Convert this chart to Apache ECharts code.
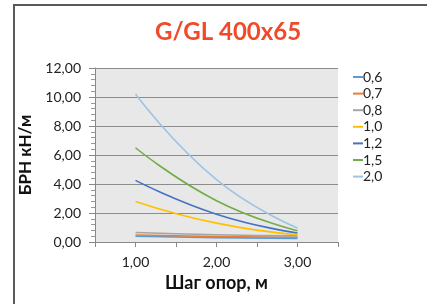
<!DOCTYPE html>
<html>
<head>
<meta charset="utf-8">
<script src="https://cdn.jsdelivr.net/npm/echarts@6/dist/echarts.min.js"></script>
<style>html,body{margin:0;padding:0;background:#fff;}#c{width:427px;height:304px;}</style>
</head>
<body>
<div id="c"></div>
<script>
var xValues = [1, 2, 3];
var seriesNames = ['0,6', '0,7', '0,8', '1,0', '1,2', '1,5', '2,0'];
var s06 = [0.40, 0.30, 0.25];
var s07 = [0.48, 0.38, 0.33];
var s08 = [0.66, 0.50, 0.42];
var s10 = [2.80, 1.30, 0.50];
var s12 = [4.25, 1.92, 0.62];
var s15 = [6.50, 2.85, 0.78];
var s20 = [10.20, 4.30, 0.97];
var seriesValues = [s06, s07, s08, s10, s12, s15, s20];
var colors = ['#5B9BD5', '#ED7D31', '#A5A5A5', '#FFC000', '#4472C4', '#70AD47', '#9DC3E6'];

var FONT = "Lato, 'Open Sans', sans-serif";
var chart = echarts.init(document.getElementById('c'), null, {renderer: 'canvas'});

function fmt(v) { return v.toFixed(2).replace('.', ','); }

var series = seriesNames.map(function (n, i) {
  return {
    name: n,
    type: 'line',
    smooth: 0.5,
    symbol: 'none',
    lineStyle: {width: 1.6, color: colors[i]},
    itemStyle: {color: colors[i]},
    data: xValues.map(function (x, j) { return [x, seriesValues[i][j]]; })
  };
});

chart.setOption({
  animation: false,
  textStyle: {fontFamily: FONT},
  title: {
    text: 'G/GL 400x65',
    left: 150,
    top: 15,
    textStyle: {color: '#EF4A2A', fontSize: 24, fontWeight: 'bold', fontFamily: FONT}
  },
  graphic: [{
    type: 'polyline',
    shape: {points: [[14, 304], [14, 5], [427, 5]]},
    style: {stroke: '#595959', lineWidth: 2, fill: null}
  }],
  legend: {
    orient: 'vertical',
    left: 348,
    top: 65,
    itemWidth: 10,
    itemHeight: 2,
    itemGap: 2.6,
    icon: 'rect',
    data: seriesNames,
    textStyle: {fontSize: 14, color: '#222', fontFamily: FONT, padding: [0, 0, 0, -5], height: 14, lineHeight: 14}
  },
  grid: {left: 95, right: 89, top: 68, bottom: 62, show: true, backgroundColor: '#E8E8E8', borderWidth: 0},
  xAxis: {
    type: 'value',
    min: 0.5, max: 3.5, interval: 0.5,
    name: 'Шаг опор, м',
    nameLocation: 'middle',
    nameGap: 31,
    nameTextStyle: {fontSize: 18, fontWeight: 'bold', color: '#111', fontFamily: FONT},
    axisLine: {show: true, lineStyle: {color: '#888', width: 1}},
    axisTick: {show: true, length: 5, lineStyle: {color: '#888'}},
    axisLabel: {
      margin: 13, fontSize: 14, color: '#222', fontFamily: FONT,
      formatter: function (v) { return Math.abs(v - Math.round(v)) < 1e-9 ? fmt(v) : ''; }
    },
    splitLine: {show: false}
  },
  yAxis: {
    type: 'value',
    min: 0, max: 12, interval: 2,
    name: 'БРН кН/м',
    nameLocation: 'middle',
    nameGap: 53,
    nameTextStyle: {fontSize: 17, fontWeight: 'bold', color: '#111', fontFamily: FONT},
    axisLine: {show: true, lineStyle: {color: '#888', width: 1}},
    axisTick: {show: true, length: 6, lineStyle: {color: '#888'}},
    minorTick: {show: true, splitNumber: 5, length: 4, lineStyle: {color: '#999'}},
    axisLabel: {margin: 14, fontSize: 14, color: '#222', fontFamily: FONT, formatter: fmt},
    splitLine: {show: true, lineStyle: {color: '#8C8C8C', width: 1}}
  },
  series: series
});
</script>
</body>
</html>
